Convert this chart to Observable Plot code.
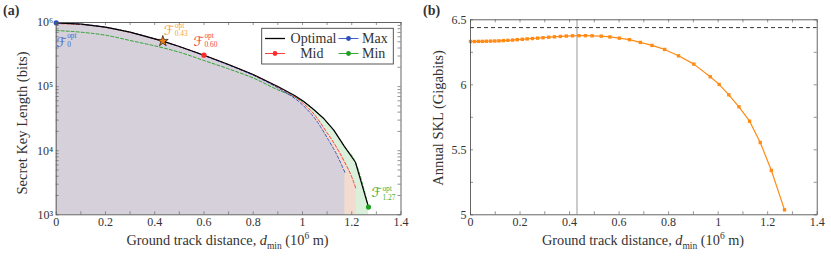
<!DOCTYPE html>
<html><head><meta charset="utf-8">
<script src="https://cdn.jsdelivr.net/npm/d3@7"></script>
<script src="https://cdn.jsdelivr.net/npm/@observablehq/plot@0.6"></script>
<style>
body{margin:0;background:#fff;}
#wrap{position:relative;width:831px;height:256px;font-family:"Liberation Serif",serif;color:#333;overflow:hidden;}
#wrap > *{position:absolute;}
.lbl{font-size:14.3px;white-space:nowrap;}
</style></head><body><div id="wrap"></div>
<script>
// ---------- Panel (a) data: secret key length (bits) vs ground track distance (10^6 m)
const dOpt   = [0,0.1,0.2,0.3,0.433,0.5,0.6,0.7,0.8,0.9,0.968,1.004,1.043,1.084,1.127,1.170,1.215,1.268];
const sklOpt = [9.9e5,9.44e5,8.45e5,7.06e5,5.12e5,4.23e5,3.09e5,2.21e5,1.545e5,1.005e5,7.24e4,5.89e4,4.47e4,3.24e4,2.09e4,1.17e4,6.6e3,1.32e3];
const dMax   = [0,0.1,0.2,0.3,0.433,0.5,0.6,0.7,0.8,0.9,1.0,1.05,1.107,1.141,1.172];
const sklMax = [9.9e5,9.45e5,8.45e5,7.05e5,5.1e5,4.2e5,3.05e5,2.17e5,1.5e5,9.5e4,5.2e4,3.2e4,1.44e4,8.4e3,4.6e3];
const dMid   = [0,0.1,0.2,0.3,0.433,0.5,0.6,0.7,0.8,0.9,1.0,1.05,1.1,1.121,1.168,1.2,1.218];
const sklMid = [9.6e5,9.3e5,8.4e5,7.0e5,5.08e5,4.2e5,3.09e5,2.2e5,1.53e5,9.8e4,5.6e4,3.6e4,1.9e4,1.45e4,7.0e3,3.9e3,2.5e3];
const dMin   = [0,0.1,0.2,0.3,0.433,0.5,0.6,0.7,0.8,0.9,0.968,1.004,1.043,1.084,1.127,1.170,1.215,1.268];
const sklMin = [7.5e5,7.06e5,6.34e5,5.24e5,4.03e5,3.44e5,2.55e5,1.89e5,1.36e5,8.9e4,6.9e4,5.8e4,4.45e4,3.22e4,2.08e4,1.17e4,6.6e3,1.32e3];
// highlighted optimal filters
const hlD     = [0, 0.433, 0.6, 1.268];
const hlSKL   = [9.9e5, 5.12e5, 3.09e5, 1.32e3];
const hlSub   = ["0", "0.43", "0.60", "1.27"];
// ---------- Panel (b) data: annual SKL (Gigabits)
const dAnn = [0,0.016,0.032,0.048,0.064,0.081,0.098,0.115,0.133,0.151,0.170,0.189,0.209,0.229,0.250,0.271,0.293,0.316,0.339,0.363,0.387,0.412,0.438,0.464,0.491,0.528,0.563,0.601,0.642,0.686,0.733,0.784,0.840,0.902,0.968,1.004,1.043,1.084,1.127,1.170,1.215,1.268];
const sklAnn = [6.333,6.333,6.334,6.334,6.335,6.336,6.337,6.338,6.340,6.342,6.344,6.347,6.350,6.353,6.356,6.359,6.362,6.366,6.369,6.372,6.375,6.377,6.378,6.378,6.377,6.374,6.368,6.359,6.347,6.326,6.303,6.272,6.223,6.159,6.062,6.003,5.923,5.831,5.720,5.556,5.341,5.038];
const annBound = [6.44];
const annOptD  = [0.43];
// ---------- ticks / labels
const xMajor = [0,0.2,0.4,0.6,0.8,1,1.2,1.4];
const xMinor = [0,0.1,0.2,0.3,0.4,0.5,0.6,0.7,0.8,0.9,1,1.1,1.2,1.3,1.4];
const yaMajor = [1e3,1e4,1e5,1e6];
const yaMinor = [];
for (const k of [3,4,5]) for (let m=1;m<10;m++) yaMinor.push(m*10**k);
const ybMajor = [5,5.5,6,6.5];
const ybMinor = [5,5.25,5.5,5.75,6,6.25,6.5];
const legendNames = ["Optimal","Max","Mid","Min"];

const C = {max:"#2a4fc0", mid:"#ff2a2a", min:"#1f9e1f", opt:"#000", star:"#f07f10",
           fmin:"#dbf0db", fmid:"#f1dccf", fmax:"#d6d0da", ann:"#ff8a14"};
const rows = (xs, ys) => xs.map((x,i)=>({x, y:ys[i]}));
const opt = rows(dOpt,sklOpt), mx = rows(dMax,sklMax), md = rows(dMid,sklMid), mn = rows(dMin,sklMin);
const hl = hlD.map((x,i)=>({x, y:hlSKL[i], sub:hlSub[i]}));
const sup = {3:"³",4:"⁴",5:"⁵",6:"⁶"};
const fmt = d => d===0?"0":String(+d.toFixed(2));
const font = {fontFamily:"Liberation Serif, serif", fontSize:"12px", color:"#333", background:"transparent", overflow:"visible"};

function ticksFrame(xT, yT, ih, iw) {
  const s = {stroke:"#777", strokeWidth:0.8};
  return [
    Plot.tickX(xT, {x:d=>d, insetTop: ih-3, ...s}),
    Plot.tickX(xT, {x:d=>d, insetBottom: ih-3, ...s}),
    Plot.tickY(yT, {y:d=>d, insetRight: iw-3, ...s}),
    Plot.tickY(yT, {y:d=>d, insetLeft: iw-3, ...s}),
  ];
}

// ---------- Panel (a)
const aML=55.7, aMR=14.5, aMT=22, aMB=41.7, aW=415;
const aIH=256-aMT-aMB, aIW=aW-aML-aMR;
const plotA = Plot.plot({
  width:aW, height:256, marginLeft:aML, marginRight:aMR, marginTop:aMT, marginBottom:aMB,
  style:font,
  x:{domain:[0,1.4]},
  y:{type:"log", domain:[1e3,1e6]},
  marks:[
    Plot.areaY(mn,{x:"x", y1:1e3, y2:"y", fill:C.fmin}),
    Plot.areaY(md,{x:"x", y1:1e3, y2:"y", fill:C.fmid, curve:"monotone-x"}),
    Plot.areaY(mx,{x:"x", y1:1e3, y2:"y", fill:C.fmax, curve:"monotone-x"}),
    Plot.line(mn,{x:"x", y:"y", stroke:C.min, strokeWidth:0.9, strokeDasharray:"3,2", curve:"monotone-x"}),
    Plot.line(md,{x:"x", y:"y", stroke:C.mid, strokeWidth:0.9, strokeDasharray:"3,2", curve:"monotone-x"}),
    Plot.line(mx,{x:"x", y:"y", stroke:C.max, strokeWidth:0.9, strokeDasharray:"3,2", curve:"monotone-x"}),
    Plot.line(opt,{x:"x", y:"y", stroke:C.opt, strokeWidth:1.2}),
    Plot.dot([hl[0]],{x:"x", y:"y", r:2.6, fill:C.max}),
    Plot.dot([hl[2]],{x:"x", y:"y", r:2.6, fill:C.mid}),
    Plot.dot([hl[3]],{x:"x", y:"y", r:2.6, fill:C.min}),
    Plot.dot([hl[1]],{x:"x", y:"y", r:3.4, symbol:"star", fill:C.star, stroke:"#000", strokeWidth:0.6}),
    ...ticksFrame(xMinor, yaMinor, aIH, aIW),
    Plot.frame({stroke:"#555", strokeWidth:0.9}),
    Plot.axisX({ticks:xMajor, tickFormat:fmt, tickSize:0, tickPadding:3, label:null}),
    Plot.axisY({ticks:yaMajor, tickFormat:d=>"10"+sup[Math.round(Math.log10(d))], tickSize:0, tickPadding:3, label:null}),
  ]
});

// ---------- Panel (b)
const bLeft=415, bML=55, bMR=14.3, bMT=19.3, bMB=41.7, bW=416;
const bIH=256-bMT-bMB, bIW=bW-bML-bMR;
const ann = rows(dAnn, sklAnn);
const plotB = Plot.plot({
  width:bW, height:256, marginLeft:bML, marginRight:bMR, marginTop:bMT, marginBottom:bMB,
  style:font,
  x:{domain:[0,1.4]},
  y:{domain:[5,6.5]},
  marks:[
    Plot.ruleY(annBound,{stroke:"#222", strokeWidth:0.9, strokeDasharray:"4,3"}),
    Plot.ruleX(annOptD,{stroke:"#999", strokeWidth:1}),
    Plot.line(ann,{x:"x", y:"y", stroke:C.ann, strokeWidth:1.2}),
    Plot.dot(ann,{x:"x", y:"y", symbol:"square", r:1.9, fill:C.ann}),
    ...ticksFrame(xMinor, ybMinor, bIH, bIW),
    Plot.frame({stroke:"#555", strokeWidth:0.9}),
    Plot.axisX({ticks:xMajor, tickFormat:fmt, tickSize:0, tickPadding:3, label:null}),
    Plot.axisY({ticks:ybMajor, tickFormat:fmt, tickSize:0, tickPadding:4, label:null}),
  ]
});

const wrap = document.getElementById("wrap");
plotA.style.left="0px"; plotA.style.top="0px";
plotB.style.left=bLeft+"px"; plotB.style.top="0px";
wrap.appendChild(plotA); wrap.appendChild(plotB);

function addDiv(html, css){ const d=document.createElement("div"); d.className="lbl"; d.innerHTML=html; Object.assign(d.style,css); wrap.appendChild(d); return d; }
const xl = 'Ground track distance, <i>d</i><sub style="font-size:9.5px">min</sub> (10<sup style="font-size:9.5px">6</sup> m)';
addDiv(xl,{left:"227.5px", top:"241px", transform:"translate(-50%,-50%)"});
addDiv(xl,{left:"643px", top:"241px", transform:"translate(-50%,-50%)"});
addDiv("Secret Key Length (bits)",{left:"22px", top:"123px", transform:"translate(-50%,-50%) rotate(-90deg)", fontSize:"14.5px"});
addDiv("Annual SKL (Gigabits)",{left:"437.5px", top:"117.5px", transform:"translate(-50%,-50%) rotate(-90deg)", fontSize:"14.5px"});
addDiv("<b>(a)</b>",{left:"3px", top:"3px", fontSize:"14px"});
addDiv("<b>(b)</b>",{left:"423px", top:"3px", fontSize:"14px"});

// overlay: annotations and legend
const svg = d3.select(wrap).append("svg").attr("width",831).attr("height",256).style("left","0px").style("top","0px").style("pointer-events","none");
const sx = plotA.scale("x"), sy = plotA.scale("y");
// [F dx, F dy, script centre dy]
const labelStyle = [
  {color:"#4a6ad0", f:[0.5,19.7], c:17.8},
  {color:"#f7a050", f:[1.5,-10.7], c:-11},
  {color:"#f04848", f:[-10,-13.9], c:-14.4},
  {color:"#3cb03c", f:[3.5,-14], c:-13.8},
];
hl.forEach((h,i)=>{
  const st = labelStyle[i];
  const px = sx.apply(h.x), py = sy.apply(h.y);
  const g = svg.append("g").attr("fill",st.color);
  const F = g.append("text").attr("x",px+st.f[0]).attr("y",py+st.f[1]).attr("dy","0.35em").attr("font-size",13.5)
    .attr("font-family","DejaVu Serif, DejaVu Sans, serif").attr("font-style","italic").text("ℱ");
  const sxp = px + st.f[0] + F.node().getComputedTextLength() + 0.3;
  g.append("text").attr("x",sxp).attr("y",py+st.c-4.4).attr("dy","0.32em").attr("font-size",7.4)
    .attr("font-family","Liberation Serif, serif").text("opt");
  g.append("text").attr("x",sxp).attr("y",py+st.c+4.4).attr("dy","0.32em").attr("font-size",7.4)
    .attr("font-family","Liberation Serif, serif").text(h.sub);
});
svg.append("rect").attr("x",261.7).attr("y",28.3).attr("width",131.6).attr("height",35.7).attr("fill","#fff").attr("stroke","#444").attr("stroke-width",0.9);
const items = [
  {name:legendNames[0], color:C.opt, lx:265, tx:336.5, anchor:"end", y:38.5, dot:false, w:1.3},
  {name:legendNames[1], color:C.max, lx:338.5, tx:362, anchor:"start", y:38.5, dot:true, w:0.9},
  {name:legendNames[2], color:C.mid, lx:265, tx:323.5, anchor:"end", y:53.5, dot:true, w:0.9},
  {name:legendNames[3], color:C.min, lx:338.5, tx:362, anchor:"start", y:53.5, dot:true, w:0.9},
];
for (const it of items) {
  svg.append("line").attr("x1",it.lx).attr("x2",it.lx+20).attr("y1",it.y).attr("y2",it.y).attr("stroke",it.color).attr("stroke-width",it.w);
  if (it.dot) svg.append("circle").attr("cx",it.lx+10).attr("cy",it.y).attr("r",2.4).attr("fill",it.color);
  svg.append("text").attr("x",it.tx).attr("y",it.y).attr("dy","0.35em").attr("text-anchor",it.anchor)
    .attr("font-family","Liberation Serif, serif").attr("font-size",14).attr("fill","#333").text(it.name);
}
</script></body></html>
